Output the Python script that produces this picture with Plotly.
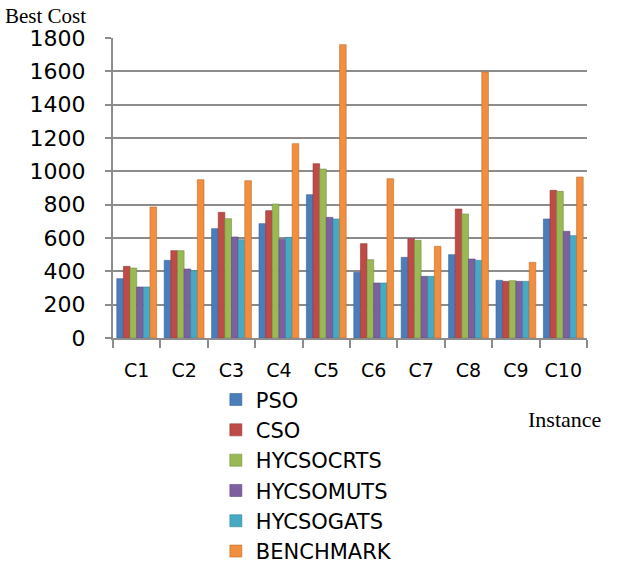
import plotly.graph_objects as go

categories = ["C1", "C2", "C3", "C4", "C5", "C6", "C7", "C8", "C9", "C10"]
series_names = ["PSO", "CSO", "HYCSOCRTS", "HYCSOMUTS", "HYCSOGATS", "BENCHMARK"]
pso = [356, 466, 656, 686, 860, 394, 484, 500, 346, 714]
cso = [430, 524, 754, 764, 1046, 566, 596, 774, 340, 886]
hycsocrts = [420, 524, 716, 804, 1014, 470, 586, 744, 344, 880]
hycsomuts = [306, 414, 606, 592, 724, 330, 370, 474, 340, 640]
hycsogats = [306, 404, 590, 604, 714, 330, 370, 466, 340, 614]
benchmark = [786, 950, 944, 1166, 1760, 956, 550, 1596, 454, 966]
y_ticks = [0, 200, 400, 600, 800, 1000, 1200, 1400, 1600, 1800]

series_values = [pso, cso, hycsocrts, hycsomuts, hycsogats, benchmark]
colors = ["#4A7EBB", "#BE4B48", "#98B954", "#7D60A0", "#46AAC5", "#F18E3F"]
edge = ["#3A6499", "#943A38", "#76913F", "#5F477D", "#348599", "#C06E2C"]

fig = go.Figure()
for i, (name, vals) in enumerate(zip(series_names, series_values)):
    fig.add_trace(go.Bar(
        x=categories, y=vals, name=name,
        marker=dict(color=colors[i], line=dict(color=edge[i], width=0.6)),
        legendgroup=name,
    ))

fig.update_layout(
    width=619, height=564,
    margin=dict(l=113, r=32, t=38, b=226, autoexpand=False),
    paper_bgcolor="white", plot_bgcolor="white",
    barmode="group", bargap=0.16, bargroupgap=0,
    font=dict(family="DejaVu Sans", size=20, color="#000000"),
    showlegend=True,
    legend=dict(
        x=0.217, y=-0.138, xanchor="left", yanchor="top",
        orientation="v", tracegroupgap=0,
        font=dict(family="DejaVu Sans", size=21, color="#000000"),
        bgcolor="rgba(0,0,0,0)",
    ),
    annotations=[
        dict(text="Best Cost", xref="paper", yref="paper", x=-0.232, y=1.073,
             xanchor="left", yanchor="middle", showarrow=False,
             font=dict(family="Liberation Serif", size=21, color="#000000")),
        dict(text="Instance", xref="paper", yref="paper", x=1.034, y=-0.273,
             xanchor="right", yanchor="middle", showarrow=False,
             font=dict(family="Liberation Serif", size=22, color="#000000")),
    ],
)

fig.update_xaxes(
    type="category", showline=True, linecolor="#8C8C8C", linewidth=2,
    ticks="outside", tickson="boundaries", ticklen=8, tickcolor="#8C8C8C", tickwidth=2,
    showgrid=False, ticklabelstandoff=14, tickangle=0, automargin=False,
    tickfont=dict(family="DejaVu Sans", size=19, color="#000000"),
)
fig.update_yaxes(
    range=[0, 1800], tickvals=y_ticks, ticktext=[str(v) for v in y_ticks],
    showline=True, linecolor="#8C8C8C", linewidth=2,
    ticks="outside", ticklen=6, tickcolor="#8C8C8C", tickwidth=2,
    showgrid=True, gridcolor="#8C8C8C", gridwidth=2, zeroline=False,
    tickfont=dict(family="DejaVu Sans", size=22, color="#000000"),
    ticklabelstandoff=15, automargin=False,
)

fig.write_html("out.html", config={"displayModeBar": False},
               post_script="document.body.style.margin='0px';")
